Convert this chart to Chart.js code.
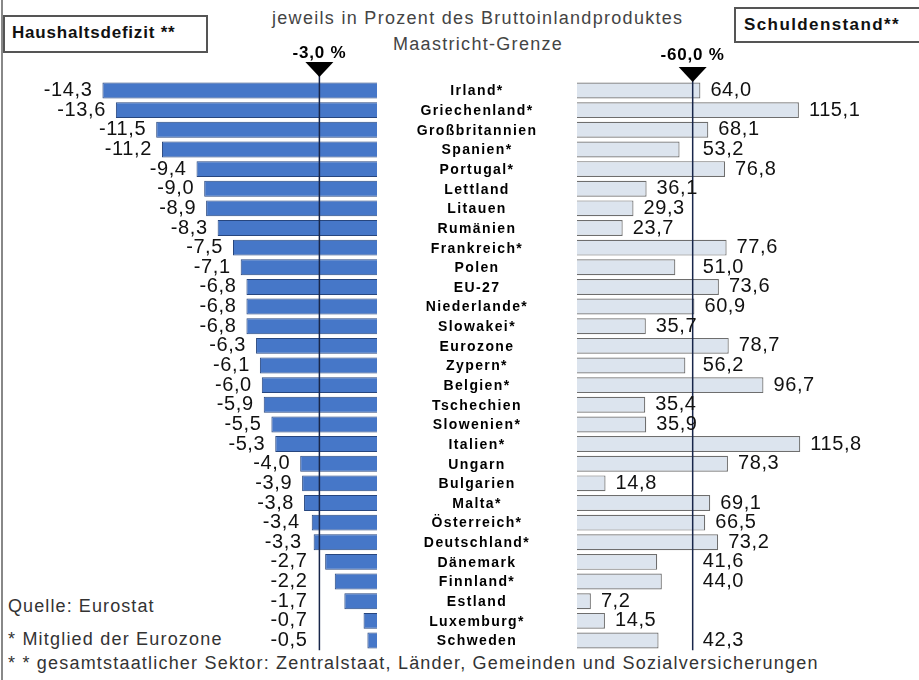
<!DOCTYPE html>
<html lang="de">
<head>
<meta charset="utf-8">
<title>Haushaltsdefizit und Schuldenstand</title>
<script src="https://cdn.jsdelivr.net/npm/chart.js@4/dist/chart.umd.min.js"></script>
<style>
  html, body { margin: 0; padding: 0; background: #fff; }
  body { width: 919px; height: 680px; position: relative; overflow: hidden;
         font-family: "Liberation Sans", Arial, sans-serif; color: #111; }
  canvas { position: absolute; left: 0; top: 0; }
  .txt { position: absolute; white-space: nowrap; }
  .box { position: absolute; border: 2px solid #555; background: #fff; box-sizing: border-box; }
  .frame { position: absolute; left: 1px; top: 0; width: 2px; height: 680px; background: #888; }
</style>
</head>
<body>
<div class="frame"></div>

<div class="box" style="left:3px;top:15px;width:205px;height:38px;"></div>
<div class="txt" style="left:12px;top:23px;font-weight:bold;font-size:17px;letter-spacing:0.8px;">Haushaltsdefizit **</div>

<div class="box" style="left:734px;top:7px;width:190px;height:36px;"></div>
<div class="txt" style="left:744px;top:15px;font-weight:bold;font-size:17px;letter-spacing:1.4px;">Schuldenstand**</div>

<div class="txt" style="left:272px;top:8px;font-size:18px;letter-spacing:1.3px;color:#444;">jeweils in Prozent des Bruttoinlandproduktes</div>
<div class="txt" style="left:393px;top:34px;font-size:18px;letter-spacing:1.3px;color:#444;">Maastricht-Grenze</div>

<div class="txt" style="left:8px;top:596px;font-size:18px;letter-spacing:1.1px;color:#333;">Quelle: Eurostat</div>
<div class="txt" style="left:8px;top:629px;font-size:18px;letter-spacing:1.2px;color:#333;">* Mitglied der Eurozone</div>
<div class="txt" style="left:8px;top:653px;font-size:18px;letter-spacing:1.2px;color:#333;">* * gesamtstaatlicher Sektor: Zentralstaat, Länder, Gemeinden und Sozialversicherungen</div>

<canvas id="deficitChart" width="919" height="680"></canvas>
<canvas id="debtChart" width="919" height="680"></canvas>

<script>
// Länder (Sternchen = Mitglied der Eurozone)
const categories = ['Irland*', 'Griechenland*', 'Großbritannien', 'Spanien*', 'Portugal*',
    'Lettland', 'Litauen', 'Rumänien', 'Frankreich*', 'Polen', 'EU-27', 'Niederlande*',
    'Slowakei*', 'Eurozone', 'Zypern*', 'Belgien*', 'Tschechien', 'Slowenien*', 'Italien*',
    'Ungarn', 'Bulgarien', 'Malta*', 'Österreich*', 'Deutschland*', 'Dänemark', 'Finnland*',
    'Estland', 'Luxemburg*', 'Schweden'];

// Haushaltsdefizit in % des BIP
const deficitValues = [-14.3, -13.6, -11.5, -11.2, -9.4, -9.0, -8.9, -8.3, -7.5, -7.1,
    -6.8, -6.8, -6.8, -6.3, -6.1, -6.0, -5.9, -5.5, -5.3, -4.0, -3.9, -3.8, -3.4, -3.3,
    -2.7, -2.2, -1.7, -0.7, -0.5];

// Schuldenstand in % des BIP
const debtValues = [64.0, 115.1, 68.1, 53.2, 76.8, 36.1, 29.3, 23.7, 77.6, 51.0, 73.6,
    60.9, 35.7, 78.7, 56.2, 96.7, 35.4, 35.9, 115.8, 78.3, 14.8, 69.1, 66.5, 73.2, 41.6,
    44.0, 7.2, 14.5, 42.3];

// Maastricht-Grenzen
const deficitLimit = -3.0;
const debtLimit = 60.0;
const deficitLimitLabel = '-3,0 %';
const debtLimitLabel = '-60,0 %';

const FONT = '"Liberation Sans", Arial, sans-serif';

function fmt(v) {
    return v.toFixed(1).replace('.', ',');
}

/**
 * Draw a Maastricht limit line with the triangle marker on top
 */
function drawLimit(ctx, x, top, bottom, label, labelY) {
    ctx.save();
    ctx.strokeStyle = '#18264a';
    ctx.lineWidth = 1.5;
    ctx.beginPath();
    ctx.moveTo(x, top);
    ctx.lineTo(x, bottom);
    ctx.stroke();

    ctx.fillStyle = '#000';
    ctx.beginPath();
    ctx.moveTo(x - 14, top);
    ctx.lineTo(x + 14, top);
    ctx.lineTo(x, top + 15);
    ctx.closePath();
    ctx.fill();

    ctx.font = 'bold 17px ' + FONT;
    ctx.letterSpacing = '0.8px';
    ctx.textAlign = 'center';
    ctx.textBaseline = 'middle';
    ctx.fillText(label, x, labelY);
    ctx.restore();
}

const deficitPlugin = {
    id: 'deficitLabels',
    afterDatasetsDraw(chart) {
        const ctx = chart.ctx;
        const meta = chart.getDatasetMeta(0);
        const xScale = chart.scales.x;
        const lineX = xScale.getPixelForValue(deficitLimit);

        // Werte links der Balken, kleine Defizite bleiben links der Grenzlinie
        ctx.save();
        ctx.font = '20px ' + FONT;
        ctx.letterSpacing = '0.6px';
        ctx.fillStyle = '#111';
        ctx.textAlign = 'right';
        ctx.textBaseline = 'middle';
        meta.data.forEach((bar, i) => {
            const v = deficitValues[i];
            const end = v > -3.5 ? Math.min(bar.x, lineX) - 12 : bar.x - 10;
            ctx.fillText(fmt(v), end, bar.y);
        });
        ctx.restore();

        drawLimit(ctx, lineX, 62, chart.chartArea.bottom, deficitLimitLabel, 53);
    }
};

const debtPlugin = {
    id: 'debtLabels',
    afterDatasetsDraw(chart) {
        const ctx = chart.ctx;
        const meta = chart.getDatasetMeta(0);
        const xScale = chart.scales.x;
        const yScale = chart.scales.y;
        const lineX = xScale.getPixelForValue(debtLimit);

        // Länder in der Mitte
        ctx.save();
        ctx.font = 'bold 14px ' + FONT;
        ctx.letterSpacing = '1.4px';
        ctx.fillStyle = '#000';
        ctx.textAlign = 'center';
        ctx.textBaseline = 'middle';
        categories.forEach((name, i) => {
            ctx.fillText(name, 477, yScale.getPixelForValue(i) + 1);
        });
        ctx.restore();

        drawLimit(ctx, lineX, 67, chart.chartArea.bottom, debtLimitLabel, 55);

        // Werte rechts der Balken
        ctx.save();
        ctx.font = '20px ' + FONT;
        ctx.letterSpacing = '0.6px';
        ctx.fillStyle = '#111';
        ctx.textAlign = 'left';
        ctx.textBaseline = 'middle';
        meta.data.forEach((bar, i) => {
            const v = debtValues[i];
            const start = v >= 40 ? Math.max(bar.x, lineX) : bar.x;
            ctx.fillText(fmt(v), start + 10, bar.y);
        });
        ctx.restore();
    }
};

const rowTop = 80.7;
const rowBottom = 650.3;

new Chart(document.getElementById('deficitChart'), {
    type: 'bar',
    data: {
        labels: categories,
        datasets: [{
            data: deficitValues,
            backgroundColor: '#4677c8',
            borderColor: '#27467e',
            borderWidth: 1,
            barPercentage: 0.81,
            categoryPercentage: 1
        }]
    },
    options: {
        indexAxis: 'y',
        responsive: false,
        animation: false,
        layout: { padding: { left: 89, right: 919 - 377, top: rowTop, bottom: 680 - rowBottom } },
        scales: {
            x: { display: false, min: -15, max: 0 },
            y: { display: false }
        },
        plugins: { legend: { display: false }, tooltip: { enabled: false } }
    },
    plugins: [deficitPlugin]
});

new Chart(document.getElementById('debtChart'), {
    type: 'bar',
    data: {
        labels: categories,
        datasets: [{
            data: debtValues,
            backgroundColor: '#dce4ee',
            borderColor: '#6e6e6e',
            borderWidth: 1.2,
            barPercentage: 0.81,
            categoryPercentage: 1
        }]
    },
    options: {
        indexAxis: 'y',
        responsive: false,
        animation: false,
        layout: { padding: { left: 577, right: 919 - 818, top: rowTop, bottom: 680 - rowBottom } },
        scales: {
            x: { display: false, min: 0, max: 125 },
            y: { display: false }
        },
        plugins: { legend: { display: false }, tooltip: { enabled: false } }
    },
    plugins: [debtPlugin]
});
</script>
</body>
</html>
